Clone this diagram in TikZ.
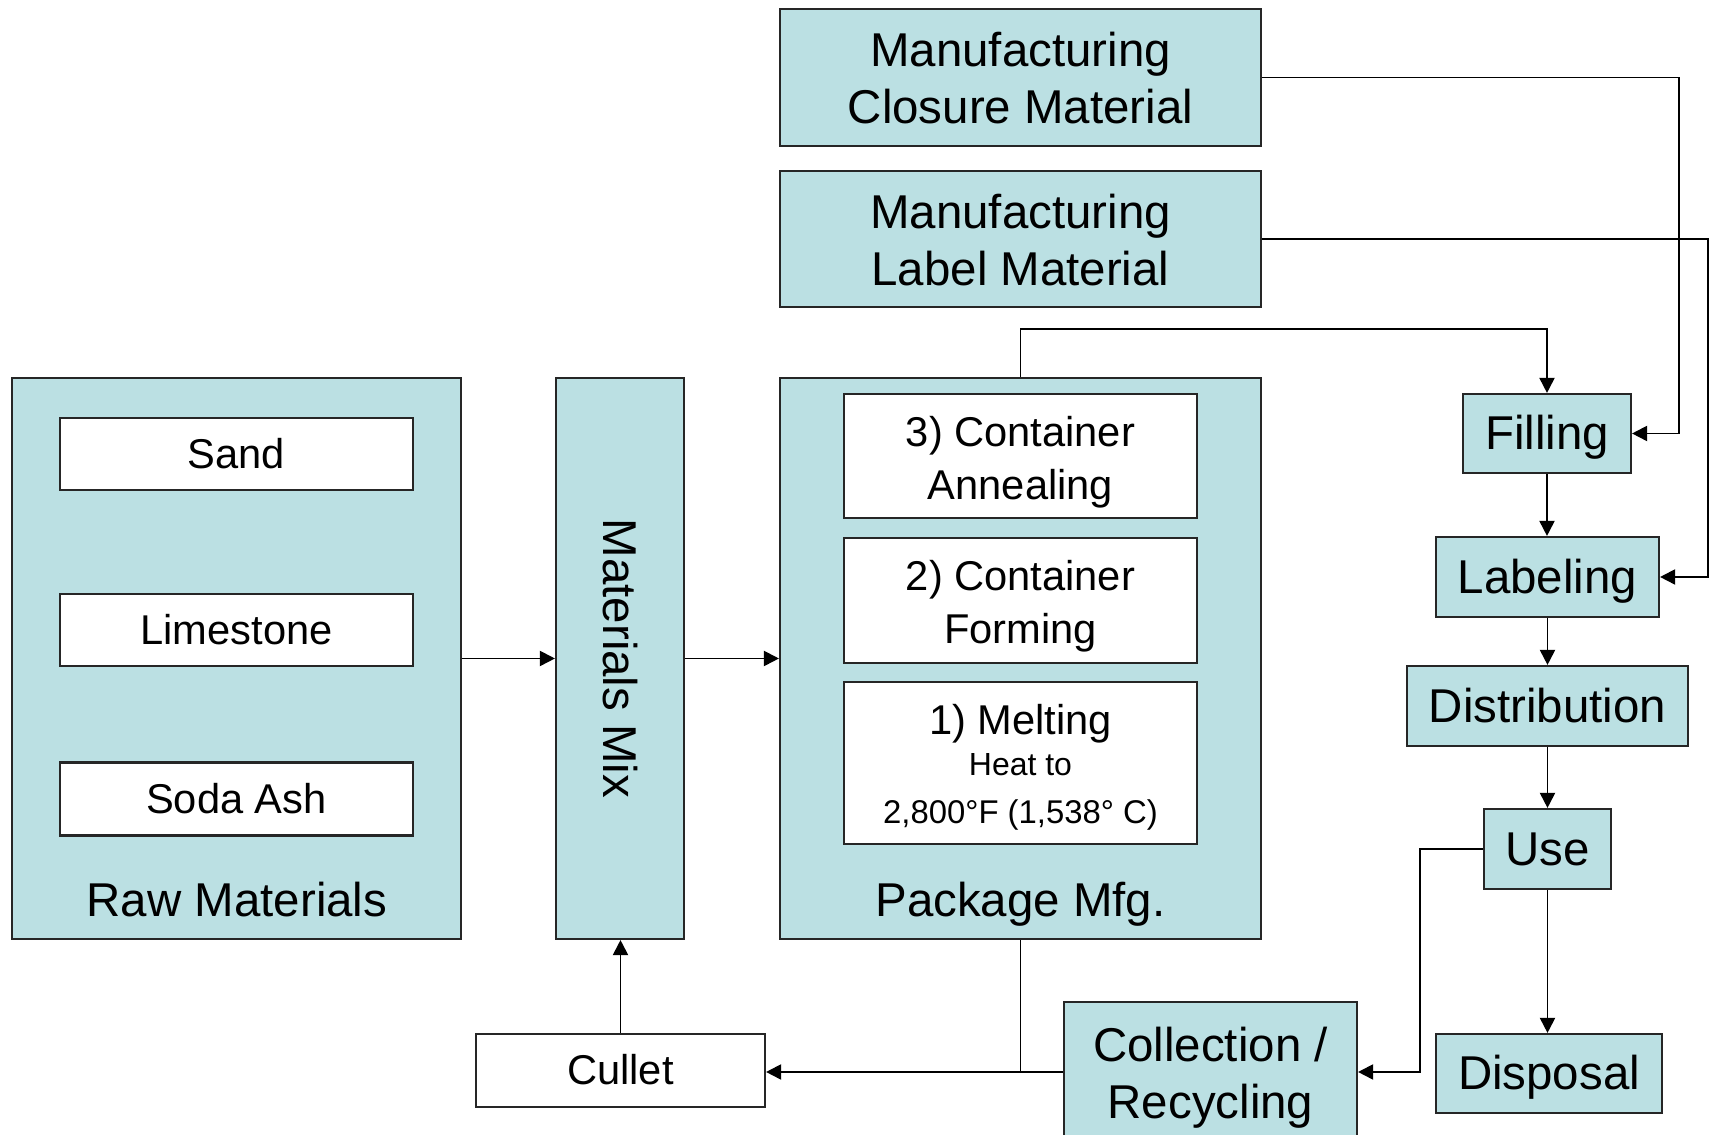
\documentclass[tikz,border=0pt]{standalone}
\usepackage{fontspec}
\setmainfont{Liberation Sans}
\usetikzlibrary{arrows.meta}

\definecolor{glassblue}{RGB}{187,224,227}
\newcommand{\bigtxt}{\fontsize{13.5}{16.2}\selectfont}
\newcommand{\midtxt}{\fontsize{11.85}{14.2}\selectfont}
\newcommand{\smalltxt}{\fontsize{9.1}{11}\selectfont}
% struts with the line box of the slide font
\newcommand{\bigstrut}{\rule[-2.86pt]{0pt}{15.08pt}}
\newcommand{\midstrut}{\rule[-2.51pt]{0pt}{13.24pt}}
% extra room above the first line of two-line boxes
\newcommand{\bigtop}{\rule{0pt}{12.9pt}}
\newcommand{\midtop}{\rule{0pt}{12pt}}

\begin{document}
\begin{tikzpicture}[
					stage/.style = {draw=black!85, line width=0.6pt, fill=glassblue, font=\bigtxt, align=center, inner sep=0pt,
						execute at begin node=\bigstrut, execute at end node=\bigstrut},
					item/.style = {draw=black!85, line width=0.6pt, fill=white, font=\midtxt, align=center, inner sep=0pt,
						execute at begin node=\midstrut, execute at end node=\midstrut},
					caption/.style = {font=\bigtxt, inner sep=0pt,
						execute at begin node=\bigstrut, execute at end node=\bigstrut},
					flow/.style = {-{Triangle[length=4.3pt,width=4.3pt]}, line width=0.55pt}
					]

					\useasboundingbox (0,0) rectangle (17.14,11.35);

					% supplier boxes
					\node[stage, minimum width=4.81cm, minimum height=1.37cm] (clos) at (10.205,10.575) {\bigtop Manufacturing\\Closure Material};
					\node[stage, minimum width=4.81cm, minimum height=1.36cm] (lab) at (10.205,8.96) {\bigtop Manufacturing\\Label Material};

					% raw materials
					\node[stage, minimum width=4.49cm, minimum height=5.61cm] (raw) at (2.365,4.765) {};
					\node[item, minimum width=3.53cm, minimum height=0.72cm] (sand) at (2.365,6.81) {Sand};
					\node[item, minimum width=3.53cm, minimum height=0.72cm] (lime) at (2.365,5.05) {Limestone};
					\node[item, minimum width=3.53cm, minimum height=0.73cm] (soda) at (2.365,3.36) {Soda Ash};
					\node[caption] (rawlbl) at (2.37,2.345) {Raw Materials};

					% mix
					\node[stage, minimum width=1.28cm, minimum height=5.61cm] (mix) at (6.20,4.765) {};
					\node[caption, rotate=-90] (mixlbl) at (6.20,4.765) {Materials Mix};

					% package manufacturing
					\node[stage, minimum width=4.81cm, minimum height=5.61cm] (pkg) at (10.205,4.765) {};
					\node[item, minimum width=3.53cm, minimum height=1.24cm] (anneal) at (10.205,6.79) {\midtop 3) Container\\[0.9pt]Annealing};
					\node[item, minimum width=3.53cm, minimum height=1.25cm] (form) at (10.205,5.345) {\midtop 2) Container\\[0.9pt]Forming};
					\node[item, minimum width=3.53cm, minimum height=1.62cm] (melt) at (10.205,3.72)
						{\rule{0pt}{11.8pt}1) Melting\\[-2.5pt]{\smalltxt Heat to}\\[-0.5pt]{\fontsize{9.35}{11}\selectfont 2,800°F (1,538° C)}};
					\node[caption] (pkglbl) at (10.205,2.345) {Package Mfg.};

					% life cycle
					\node[stage, minimum width=1.68cm, minimum height=0.79cm] (fill) at (15.47,7.015) {Filling};
					\node[stage, minimum width=2.23cm, minimum height=0.80cm] (labeling) at (15.475,5.58) {Labeling};
					\node[stage, minimum width=2.81cm, minimum height=0.80cm] (dist) at (15.475,4.29) {Distribution};
					\node[stage, minimum width=1.27cm, minimum height=0.80cm] (use) at (15.475,2.86) {Use};
					\node[stage, minimum width=2.26cm, minimum height=0.79cm] (disp) at (15.49,0.615) {Disposal};
					\node[stage, minimum width=2.93cm, minimum height=1.40cm] (coll) at (12.105,0.63) {\bigtop Collection /\\Recycling};
					\node[item, minimum width=2.89cm, minimum height=0.73cm] (cullet) at (6.205,0.645) {Cullet};

					\draw[flow] (raw.east) -- (mix.west);
					\draw[flow] (mix.east) -- (pkg.west);
					\draw[flow] (pkg.north) -- ++(0,0.48) -| (fill.north);
					\draw[flow] (clos.east) -- ++(4.17,0) |- (fill.east);
					\draw[flow] (lab.east) -- ++(4.46,0) |- (labeling.east);

					\draw[flow] (fill.south) -- (fill.south |- labeling.north);
					\draw[flow] (labeling.south) -- (labeling.south |- dist.north);
					\draw[flow] (dist.south) -- (dist.south |- use.north);
					\draw[flow] (use.south) -- (use.south |- disp.north);

					\draw[flow] (use.west) -- ++(-0.633,0) |- (coll.east);
					\draw[flow] (coll.west) -- (coll.west -| cullet.east);
					\draw[line width=0.55pt] (pkg.south) -- (pkg.south |- coll.west);
					\draw[flow] (cullet.north) -- (cullet.north |- mix.south);

				\end{tikzpicture}
\end{document}
